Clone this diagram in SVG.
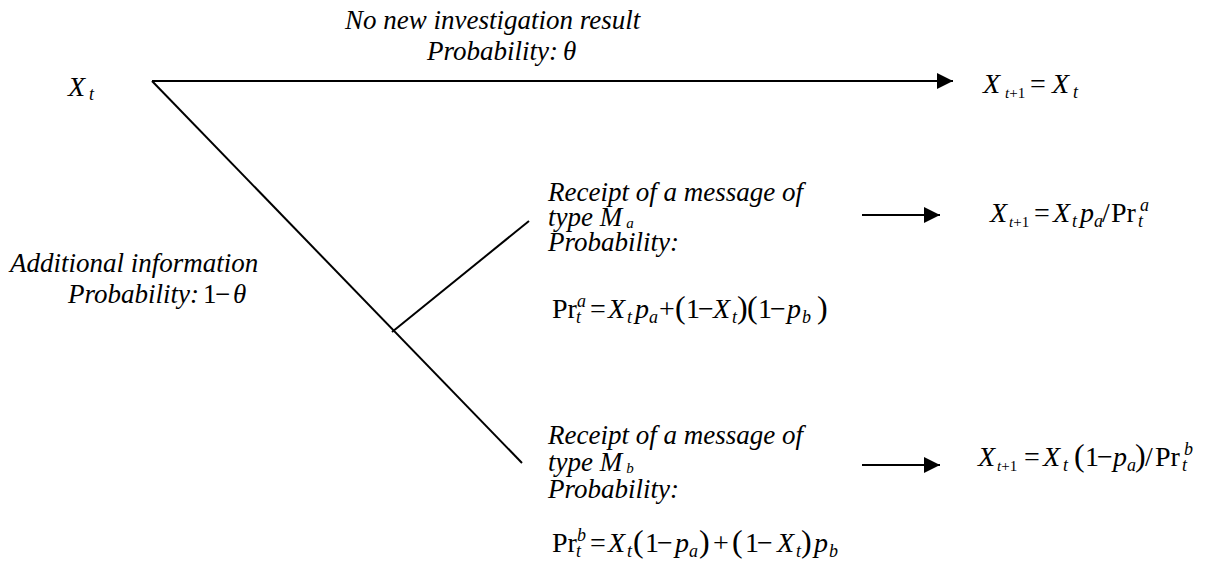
<svg xmlns="http://www.w3.org/2000/svg" width="1210" height="576" viewBox="0 0 1210 576">
<defs>
<style>
.t{font-family:"Liberation Serif","Times New Roman",serif;font-style:italic;font-size:27px;fill:#000}
.m{font-family:"Liberation Serif","Times New Roman",serif;font-size:28px;fill:#000}
.i{font-style:italic}
.u{font-style:normal}
.s{font-size:18px}
.ss{font-size:15px}
.p{font-size:32px}
.c line{stroke:#000;stroke-width:2;fill:none}
</style>
<marker id="ah" markerUnits="userSpaceOnUse" markerWidth="18" markerHeight="16" refX="16" refY="8" orient="auto">
<path d="M0,0 L16,8 L0,16 Z" fill="#000"/>
</marker>
</defs>
<rect width="1210" height="576" fill="#fff"/>
<g id="connectors" class="c">
<line x1="152" y1="81" x2="953" y2="81" marker-end="url(#ah)"/>
<line x1="152" y1="81" x2="522" y2="463"/>
<line x1="392" y1="332" x2="529" y2="221"/>
<line x1="862" y1="215" x2="940" y2="215" marker-end="url(#ah)"/>
<line x1="862" y1="465" x2="940" y2="465" marker-end="url(#ah)"/>
</g>
<g id="root">
<text class="m" y="96"><tspan class="i" x="68">X</tspan><tspan class="i s" x="89" y="100">t</tspan></text>
</g>
<g id="label-no-new">
<text class="t" x="345" y="29">No new investigation result</text>
<text class="t" x="427" y="60">Probability: <tspan x="563">θ</tspan></text>
</g>
<g id="outcome-same">
<text class="m" y="93"><tspan class="i" x="983">X</tspan><tspan class="ss" y="98"><tspan class="i" x="1005">t</tspan>+1</tspan><tspan x="1030" y="93">=</tspan><tspan class="i" x="1052">X</tspan><tspan class="i s" x="1073" y="98">t</tspan></text>
</g>
<g id="label-additional">
<text class="t" x="10" y="272">Additional information</text>
<text class="t" x="68" y="303">Probability:<tspan class="u" x="203">1</tspan><tspan class="u" x="215">−</tspan><tspan x="233">θ</tspan></text>
</g>
<g id="branch-a">
<text class="t" x="548" y="201">Receipt of a message of</text>
<text class="t" x="548" y="226">type M<tspan class="ss" dx="4" dy="2">a</tspan></text>
<text class="t" x="548" y="251">Probability:</text>
<text class="m" y="318"><tspan x="552">Pr</tspan><tspan class="i s" x="576" y="323">t</tspan><tspan class="i s" x="577" y="307">a</tspan><tspan x="590" y="318">=</tspan><tspan class="i" x="608">X</tspan><tspan class="i s" x="627" y="323">t</tspan><tspan class="i" x="635" y="318">p</tspan><tspan class="i s" x="649" y="323">a</tspan><tspan x="659" y="318">+</tspan><tspan class="p" x="675">(</tspan><tspan x="686">1</tspan><tspan x="698">−</tspan><tspan class="i" x="713">X</tspan><tspan class="i s" x="732" y="323">t</tspan><tspan class="p" x="737" y="318">)</tspan><tspan class="p" x="747">(</tspan><tspan x="758">1</tspan><tspan x="770">−</tspan><tspan class="i" x="787">p</tspan><tspan class="i s" x="802" y="323">b</tspan><tspan class="p" x="817" y="318">)</tspan></text>
</g>
<g id="outcome-a">
<text class="m" y="222"><tspan class="i" x="990">X</tspan><tspan class="ss" y="227"><tspan class="i" x="1009">t</tspan>+1</tspan><tspan x="1034" y="222">=</tspan><tspan class="i" x="1053">X</tspan><tspan class="i s" x="1072" y="227">t</tspan><tspan class="i" x="1080" y="222">p</tspan><tspan class="i s" x="1094" y="227">a</tspan><tspan x="1102" y="222">/</tspan><tspan x="1111">Pr</tspan><tspan class="i s" x="1138" y="227">t</tspan><tspan class="i s" x="1140" y="211">a</tspan></text>
</g>
<g id="branch-b">
<text class="t" x="548" y="444">Receipt of a message of</text>
<text class="t" x="548" y="471">type M<tspan class="ss" dx="4" dy="2">b</tspan></text>
<text class="t" x="548" y="498">Probability:</text>
<text class="m" y="552"><tspan x="552">Pr</tspan><tspan class="i s" x="576" y="557">t</tspan><tspan class="i s" x="577" y="541">b</tspan><tspan x="590" y="552">=</tspan><tspan class="i" x="608">X</tspan><tspan class="i s" x="627" y="557">t</tspan><tspan class="p" x="633" y="552">(</tspan><tspan x="645">1</tspan><tspan x="657">−</tspan><tspan class="i" x="675">p</tspan><tspan class="i s" x="689" y="557">a</tspan><tspan class="p" x="699" y="552">)</tspan><tspan x="713">+</tspan><tspan class="p" x="732">(</tspan><tspan x="745">1</tspan><tspan x="757">−</tspan><tspan class="i" x="777">X</tspan><tspan class="i s" x="796" y="557">t</tspan><tspan class="p" x="801" y="552">)</tspan><tspan class="i" x="814">p</tspan><tspan class="i s" x="829" y="557">b</tspan></text>
</g>
<g id="outcome-b">
<text class="m" y="466"><tspan class="i" x="978">X</tspan><tspan class="ss" y="471"><tspan class="i" x="997">t</tspan>+1</tspan><tspan x="1024" y="466">=</tspan><tspan class="i" x="1043">X</tspan><tspan class="i s" x="1063" y="471">t</tspan><tspan class="p" x="1074" y="466">(</tspan><tspan x="1085">1</tspan><tspan x="1097">−</tspan><tspan class="i" x="1113">p</tspan><tspan class="i s" x="1127" y="471">a</tspan><tspan class="p" x="1135" y="466">)</tspan><tspan x="1145">/</tspan><tspan x="1155">Pr</tspan><tspan class="i s" x="1182" y="471">t</tspan><tspan class="i s" x="1184" y="455">b</tspan></text>
</g>
</svg>
